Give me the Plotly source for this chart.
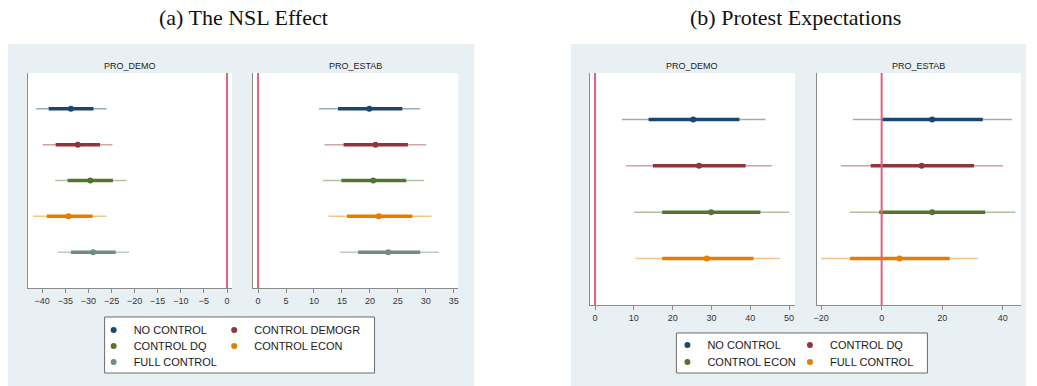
import plotly.graph_objects as go

W, H = 1037, 386

# ---------------- data ----------------
COLORS = ["#1a476f", "#90353b", "#55752f", "#e37e00", "#6e8e84"]

a_series = ["NO CONTROL", "CONTROL DEMOGR", "CONTROL DQ", "CONTROL ECON", "FULL CONTROL"]
a_rows = [1, 2, 3, 4, 5]

a_demo_est = [-33.8, -32.3, -29.6, -34.3, -29.0]
a_demo_in_lo = [-38.6, -37.1, -34.5, -39.0, -33.8]
a_demo_in_hi = [-28.9, -27.5, -24.7, -29.1, -24.1]
a_demo_out_lo = [-41.3, -39.9, -37.2, -42.0, -36.6]
a_demo_out_hi = [-26.1, -24.8, -21.8, -26.1, -21.2]

a_estab_est = [19.9, 21.0, 20.6, 21.6, 23.3]
a_estab_in_lo = [14.3, 15.3, 14.9, 15.9, 17.9]
a_estab_in_hi = [25.8, 26.8, 26.5, 27.6, 29.0]
a_estab_out_lo = [10.9, 11.9, 11.6, 12.6, 14.6]
a_estab_out_hi = [29.0, 30.1, 29.7, 31.0, 32.3]

b_series = ["NO CONTROL", "CONTROL DQ", "CONTROL ECON", "FULL CONTROL"]
b_rows = [1, 2, 3, 4]

b_demo_est = [25.3, 26.8, 29.9, 28.8]
b_demo_in_lo = [13.8, 14.9, 17.3, 17.3]
b_demo_in_hi = [37.2, 38.8, 42.6, 40.8]
b_demo_out_lo = [6.9, 8.0, 10.1, 10.4]
b_demo_out_hi = [43.9, 45.6, 50.0, 47.6]

b_estab_est = [16.7, 13.2, 16.7, 5.9]
b_estab_in_lo = [0.2, -3.6, -0.8, -10.4]
b_estab_in_hi = [33.4, 30.5, 34.2, 22.5]
b_estab_out_lo = [-9.5, -13.5, -10.6, -20.0]
b_estab_out_hi = [43.0, 40.1, 44.2, 31.8]

a_ticks_demo = [-40, -35, -30, -25, -20, -15, -10, -5, 0]
a_ticks_estab = [0, 5, 10, 15, 20, 25, 30, 35]
b_ticks_demo = [0, 10, 20, 30, 40, 50]
b_ticks_estab = [-20, 0, 20, 40]

panel_titles = ["(a) The NSL Effect", "(b) Protest Expectations"]
sub_titles = ["PRO_DEMO", "PRO_ESTAB", "PRO_DEMO", "PRO_ESTAB"]

# ---------------- layout helpers ----------------
def px_x(v):
    return v / W

def px_y(v):
    return 1 - v / H

fig = go.Figure()

# subplot geometry in pixels: (x0, x1, ytop, ybottom)
geo = {
    1: (25, 230, 73, 288),
    2: (251, 457, 73, 288),
    3: (589, 795, 73, 305),
    4: (817, 1022, 73, 305),
}
xranges = {1: [-43.1, 1.1], 2: [-0.9, 35.8], 3: [-1.37, 51.5], 4: [-21.4, 46.05]}
yranges = {1: [6, 0], 2: [6, 0], 3: [5, 0], 4: [5, 0]}
tickvals = {1: a_ticks_demo, 2: a_ticks_estab, 3: b_ticks_demo, 4: b_ticks_estab}

shapes = []
# panel backgrounds
shapes.append(dict(type="rect", xref="paper", yref="paper", layer="below",
                   x0=px_x(5), x1=px_x(473), y0=px_y(386), y1=px_y(44),
                   fillcolor="#e9f0f3", line=dict(width=0)))
shapes.append(dict(type="rect", xref="paper", yref="paper", layer="below",
                   x0=px_x(570), x1=px_x(1027), y0=px_y(386), y1=px_y(44),
                   fillcolor="#e9f0f3", line=dict(width=0)))
# white plot areas
for k, (x0, x1, yt, yb) in geo.items():
    shapes.append(dict(type="rect", xref="paper", yref="paper", layer="below",
                       x0=px_x(x0), x1=px_x(x1), y0=px_y(yb), y1=px_y(yt),
                       fillcolor="white", line=dict(width=0)))
# legend boxes
shapes.append(dict(type="rect", xref="paper", yref="paper", layer="below",
                   x0=px_x(102), x1=px_x(373), y0=px_y(373), y1=px_y(317),
                   fillcolor="white", line=dict(width=1, color="#6a6a6a")))
shapes.append(dict(type="rect", xref="paper", yref="paper", layer="below",
                   x0=px_x(676), x1=px_x(928), y0=px_y(373), y1=px_y(333),
                   fillcolor="white", line=dict(width=1, color="#6a6a6a")))

# zero reference lines
for k in geo:
    sx = "" if k == 1 else str(k)
    shapes.append(dict(type="line", xref="x" + sx, yref="y" + sx + " domain",
                       x0=0, x1=0, y0=0, y1=1,
                       line=dict(color="#e5607f", width=2)))


def add_panel(k, rows, est, in_lo, in_hi, out_lo, out_hi, names, legend_ids):
    sx = "" if k == 1 else str(k)
    for i, r in enumerate(rows):
        c = COLORS[i]
        fig.add_trace(go.Scatter(x=[out_lo[i], out_hi[i]], y=[r, r], mode="lines",
                                 line=dict(color=c, width=1.5), opacity=0.45,
                                 showlegend=False, hoverinfo="skip",
                                 xaxis="x" + sx, yaxis="y" + sx))
        fig.add_trace(go.Scatter(x=[in_lo[i], in_hi[i]], y=[r, r], mode="lines",
                                 line=dict(color=c, width=3.5),
                                 showlegend=False, hoverinfo="skip",
                                 xaxis="x" + sx, yaxis="y" + sx))
        show = legend_ids is not None
        fig.add_trace(go.Scatter(x=[est[i]], y=[r], mode="markers",
                                 marker=dict(color=c, size=6),
                                 name=names[i], showlegend=show,
                                 legend=legend_ids[i] if show else None,
                                 xaxis="x" + sx, yaxis="y" + sx))


a_leg = ["legend", "legend2", "legend3", "legend4", "legend5"]
b_leg = ["legend6", "legend7", "legend8", "legend9"]

add_panel(1, a_rows, a_demo_est, a_demo_in_lo, a_demo_in_hi, a_demo_out_lo, a_demo_out_hi, a_series, a_leg)
add_panel(2, a_rows, a_estab_est, a_estab_in_lo, a_estab_in_hi, a_estab_out_lo, a_estab_out_hi, a_series, None)
add_panel(3, b_rows, b_demo_est, b_demo_in_lo, b_demo_in_hi, b_demo_out_lo, b_demo_out_hi, b_series, b_leg)
add_panel(4, b_rows, b_estab_est, b_estab_in_lo, b_estab_in_hi, b_estab_out_lo, b_estab_out_hi, b_series, None)

layout = dict(
    width=W, height=H, autosize=False,
    margin=dict(l=0, r=0, t=0, b=0, pad=0),
    paper_bgcolor="white", plot_bgcolor="rgba(0,0,0,0)",
    shapes=shapes,
    font=dict(family="Liberation Sans, Arial, sans-serif", color="#222"),
)

for k, (x0, x1, yt, yb) in geo.items():
    sx = "" if k == 1 else str(k)
    layout["xaxis" + sx] = dict(
        domain=[px_x(x0), px_x(x1)], range=xranges[k], anchor="y" + sx,
        tickvals=tickvals[k], ticks="outside", ticklen=4, tickwidth=1,
        tickcolor="#8a8a8a", showline=True, linecolor="#8a8a8a", linewidth=1,
        showgrid=False, zeroline=False,
        tickfont=dict(size=9, color="#333", family="Liberation Sans, Arial, sans-serif"),
        fixedrange=True,
    )
    layout["yaxis" + sx] = dict(
        domain=[px_y(yb), px_y(yt)], range=yranges[k], anchor="x" + sx,
        showticklabels=False, ticks="", showline=True, linecolor="#8a8a8a",
        linewidth=1, showgrid=False, zeroline=False, fixedrange=True,
    )

# legend placements (pixels)
leg_pos_a = [(91, 330), (212, 330), (91, 346), (212, 346), (91, 362)]
leg_pos_b = [(667, 345), (790, 345), (667, 362), (790, 362)]
for lid, (lx, ly) in zip(a_leg + b_leg, leg_pos_a + leg_pos_b):
    layout[lid] = dict(x=px_x(lx), y=px_y(ly), xanchor="left", yanchor="middle",
                       bgcolor="rgba(0,0,0,0)", borderwidth=0, itemwidth=30,
                       font=dict(size=11, color="#1a1a1a",
                                 family="Liberation Sans, Arial, sans-serif"))

annotations = []
for txt, cx in zip(panel_titles, [241, 796]):
    annotations.append(dict(text=txt, x=px_x(cx), y=px_y(18), xref="paper", yref="paper",
                            showarrow=False, xanchor="center", yanchor="middle",
                            font=dict(size=22, color="#111",
                                      family="Liberation Serif, Times New Roman, serif")))
for k, txt in zip(geo, sub_titles):
    x0, x1, yt, yb = geo[k]
    annotations.append(dict(text=txt, x=px_x((x0 + x1) / 2), y=px_y(66.5), xref="paper",
                            yref="paper", showarrow=False, xanchor="center", yanchor="middle",
                            font=dict(size=9, color="#222",
                                      family="Liberation Sans, Arial, sans-serif")))
layout["annotations"] = annotations

fig.update_layout(**layout)
fig.write_html("out.html")
